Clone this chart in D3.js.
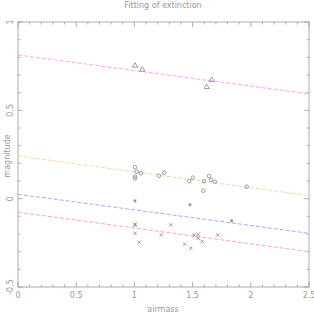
<!DOCTYPE html>
<html><head><meta charset="utf-8">
<script src="https://cdn.jsdelivr.net/npm/d3@7"></script>
<style>body{margin:0;background:#fff}svg{display:block}text{font-family:"DejaVu Sans",sans-serif;fill:#999}</style>
</head><body>
<svg id="c" width="314" height="314"></svg>
<script>
// data
const xTicks = [0, 0.5, 1, 1.5, 2, 2.5];
const xTickLabels = ["0", "0.5", "1", "1.5", "2", "2.5"];
const yTicks = [1, 0.5, 0, -0.5];
const yTickLabels = ["1", "0.5", "0", "-0.5"];
// fitted lines: [magnitude at airmass 0, magnitude at airmass 2.5]
const lineMagenta = [0.813, 0.593];
const lineOrange = [0.242, 0.017];
const lineBlue = [0.025, -0.196];
const lineRed = [-0.077, -0.300];
// triangles
const triX = [1.005, 1.068, 1.664, 1.621];
const triY = [0.753, 0.730, 0.672, 0.632];
// circles
const cirX = [1.005, 1.02, 1.057, 1.005, 1.005, 1.211, 1.257, 1.472, 1.501, 1.598, 1.592, 1.641, 1.658, 1.692, 1.965];
const cirY = [0.178, 0.153, 0.144, 0.125, 0.115, 0.130, 0.147, 0.100, 0.119, 0.100, 0.045, 0.128, 0.106, 0.096, 0.068];
// asterisks
const astX = [1.005, 1.477, 1.836];
const astY = [-0.013, -0.034, -0.125];
// crosses
const crsX = [1.005, 1.005, 1.005, 1.042, 1.231, 1.312, 1.432, 1.484, 1.512, 1.549, 1.549, 1.583, 1.716];
const crsY = [-0.143, -0.151, -0.196, -0.247, -0.205, -0.149, -0.258, -0.281, -0.205, -0.201, -0.224, -0.243, -0.205];

const svg = d3.select("#c");
const L = 18, R = 309, T = 22, B = 287;
const x = d3.scaleLinear().domain([0, 2.5]).range([L, R]);
const y = d3.scaleLinear().domain([-0.5, 1]).range([B, T]);
const axCol = "#999";

svg.append("rect").attr("x", L).attr("y", T).attr("width", R - L).attr("height", B - T)
  .attr("fill", "none").attr("stroke", axCol).attr("stroke-width", 0.8);

// ticks
const xMinor = d3.range(0, 26).map(i => i / 10);
const yMinor = d3.range(-5, 11).map(i => i / 10);
xMinor.forEach(v => {
  const major = Math.abs(v * 2 - Math.round(v * 2)) < 1e-6;
  const len = major ? 5 : 2.5;
  svg.append("line").attr("x1", x(v)).attr("x2", x(v)).attr("y1", B).attr("y2", B - len).attr("stroke", axCol).attr("stroke-width", 0.8);
  svg.append("line").attr("x1", x(v)).attr("x2", x(v)).attr("y1", T).attr("y2", T + len).attr("stroke", axCol).attr("stroke-width", 0.8);
});
yMinor.forEach(v => {
  const major = Math.abs(v * 2 - Math.round(v * 2)) < 1e-6;
  const len = major ? 5 : 2.5;
  svg.append("line").attr("y1", y(v)).attr("y2", y(v)).attr("x1", L).attr("x2", L + len).attr("stroke", axCol).attr("stroke-width", 0.8);
  svg.append("line").attr("y1", y(v)).attr("y2", y(v)).attr("x1", R).attr("x2", R - len).attr("stroke", axCol).attr("stroke-width", 0.8);
});

// tick labels
xTicks.forEach((v, i) => {
  svg.append("text").attr("x", x(v)).attr("y", B + 11).attr("text-anchor", "middle")
    .attr("font-size", 8).text(xTickLabels[i]);
});
yTicks.forEach((v, i) => {
  svg.append("text").attr("transform", `translate(13,${y(v)}) rotate(-90)`).attr("text-anchor", "middle")
    .attr("font-size", 8).text(yTickLabels[i]);
});

// titles
svg.append("text").attr("x", 163).attr("y", 8).attr("text-anchor", "middle").attr("font-size", 8).text("Fitting of extinction");
svg.append("text").attr("x", 163).attr("y", 312).attr("text-anchor", "middle").attr("font-size", 8).text("airmass");
svg.append("text").attr("transform", "translate(10,156) rotate(-90)").attr("text-anchor", "middle").attr("font-size", 8).text("magnitude");

// lines
const fits = [[lineMagenta, "#ffa0ff"], [lineOrange, "#ffd4aa"], [lineBlue, "#a8a8ff"], [lineRed, "#ffa8a8"]];
fits.forEach(([ln, c]) => {
  svg.append("line").attr("x1", x(0)).attr("y1", y(ln[0])).attr("x2", x(2.5)).attr("y2", y(ln[1]))
    .attr("stroke", c).attr("stroke-width", 1).attr("stroke-dasharray", "4,2");
});

// markers
const mk = "#777";
const g = svg.append("g").attr("fill", "none").attr("stroke", mk).attr("stroke-width", 0.7);
function draw(xs, ys, sym, size) {
  xs.forEach((v, i) => {
    g.append("path").attr("transform", `translate(${x(v)},${y(ys[i])})`)
      .attr("d", d3.symbol().type(sym).size(size)());
  });
}
draw(triX, triY, d3.symbolTriangle, 12);
draw(cirX, cirY, d3.symbolCircle, 10);
draw(astX, astY, d3.symbolAsterisk, 9);
draw(crsX, crsY, d3.symbolTimes, 9);
</script>
</body></html>
